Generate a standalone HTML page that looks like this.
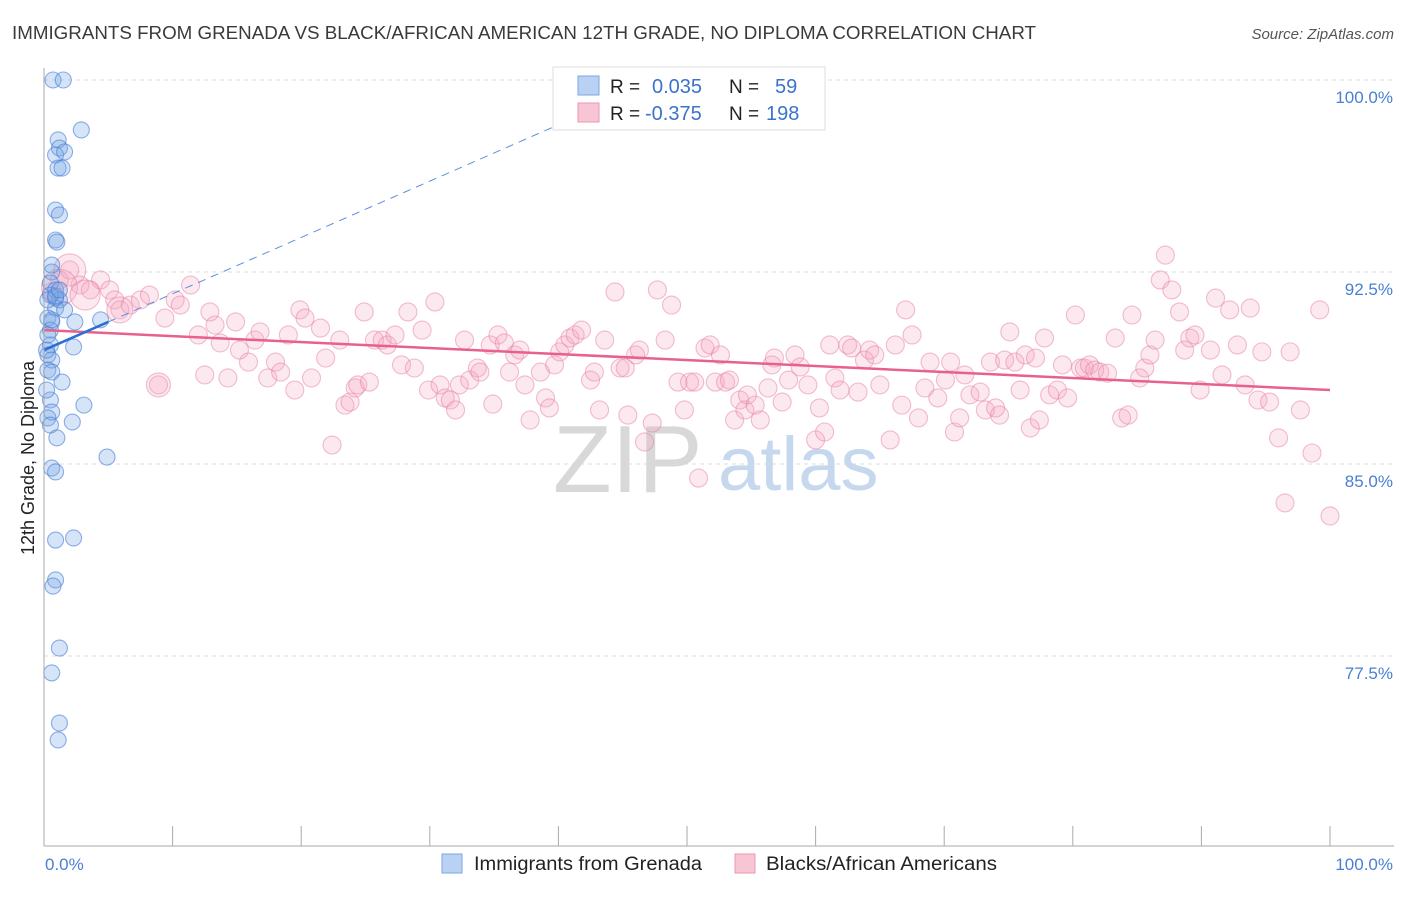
<!DOCTYPE html>
<html><head><meta charset="utf-8"><style>
body{margin:0;background:#fff;font-family:"Liberation Sans",sans-serif;}
svg text{font-family:"Liberation Sans",sans-serif;}
</style></head><body>
<svg id="chart" width="1406" height="892" viewBox="0 0 1406 892">
<text x="12" y="39" font-size="18" fill="#3a3a3a" textLength="1024" lengthAdjust="spacingAndGlyphs">IMMIGRANTS FROM GRENADA VS BLACK/AFRICAN AMERICAN 12TH GRADE, NO DIPLOMA CORRELATION CHART</text>
<text x="1394" y="39" font-size="15" fill="#555" font-style="italic" text-anchor="end">Source: ZipAtlas.com</text>
<g id="grid"></g>
<g>
<text x="553" y="492" font-size="96" fill="#d8d8d8" font-family="Liberation Serif,serif">ZIP</text>
<text x="718" y="490" font-size="76" fill="#c5d8ee">atlas</text>
</g>
<g id="pinkpts"></g>
<g id="bluepts"></g>
<g id="lines"></g>
<g id="axes"></g>
<text transform="translate(34,458) rotate(-90)" font-size="18" fill="#222" text-anchor="middle">12th Grade, No Diploma</text>
<g>
<rect x="553" y="67" width="272" height="63" fill="#fff" stroke="#ddd"/>
<rect x="578" y="76" width="21" height="19" fill="#b9d1f3" stroke="#7ea6e0"/>
<rect x="578" y="103" width="21" height="19" fill="#f8c5d5" stroke="#ec97b2"/>
<text x="610" y="93" font-size="19" fill="#222">R = </text><text x="652" y="93" font-size="20" fill="#3b73cc">0.035</text>
<text x="729" y="93" font-size="19" fill="#222">N = </text><text x="775" y="93" font-size="20" fill="#3b73cc">59</text>
<text x="610" y="120" font-size="19" fill="#222">R = </text><text x="645" y="120" font-size="20" fill="#3b73cc">-0.375</text>
<text x="729" y="120" font-size="19" fill="#222">N = </text><text x="766" y="120" font-size="20" fill="#3b73cc">198</text>
</g>
<g>
<rect x="442" y="854" width="20" height="19" fill="#b9d1f3" stroke="#7ea6e0"/>
<text x="474" y="870" font-size="19" fill="#222" textLength="228" lengthAdjust="spacingAndGlyphs">Immigrants from Grenada</text>
<rect x="735" y="854" width="20" height="19" fill="#f8c5d5" stroke="#ec97b2"/>
<text x="766" y="870" font-size="19" fill="#222" textLength="231" lengthAdjust="spacingAndGlyphs">Blacks/African Americans</text>
</g>
</svg>
<script>
const yTicks=[100,92.5,85,77.5];
const yTickLabels=["100.0%","92.5%","85.0%","77.5%"];
const xTickLabels=["0.0%","100.0%"];
const blueX=[0.7,1.5,2.9,1.1,1.2,0.9,1.6,1.1,1.4,0.9,1.2,0.9,1.0,0.6,0.6,0.5,0.9,0.9,1.2,0.9,1.6,0.3,0.6,2.4,4.4,2.3,0.5,0.3,0.6,0.3,0.6,1.4,3.1,2.2,0.5,0.6,0.3,0.5,1.0,4.9,0.6,0.9,0.9,2.3,0.9,0.7,1.2,0.6,1.2,1.1,0.5,0.3,0.9,0.5,0.2,0.3,1.2,0.6,0.2];
const blueY=[100,100,98.05,97.66,97.34,97.07,97.19,96.56,96.56,94.92,94.73,93.75,93.67,92.77,92.5,92.07,91.8,91.48,91.41,91.09,91.02,90.7,90.55,90.55,90.63,89.57,89.65,89.26,89.06,88.67,88.59,88.2,87.3,86.64,87.5,87.03,86.8,86.52,86.02,85.27,84.84,84.69,82.03,82.11,80.47,80.23,77.81,76.84,74.88,74.22,91.6,91.41,91.56,90.23,89.45,90.04,91.8,90.63,87.89];
const pinkX=[0.6,1.2,2.0,2.8,3.6,4.4,5.1,5.5,5.9,6.7,7.5,8.2,8.9,9.4,10.2,10.6,11.4,12.0,12.5,12.9,13.3,13.7,14.3,14.9,15.2,15.9,16.4,16.8,17.4,18.0,18.4,19.0,19.5,19.9,20.3,20.8,21.5,21.9,22.4,23.0,23.4,23.8,24.2,24.4,24.9,25.3,25.7,26.3,26.7,27.3,27.8,28.3,28.8,29.4,29.9,30.4,30.8,31.2,31.6,32.0,32.3,32.7,33.1,33.7,33.9,34.7,34.9,35.3,35.8,36.2,36.6,37.0,37.4,37.8,38.6,39.0,39.3,39.7,40.1,40.5,40.9,41.3,41.8,42.5,42.8,43.2,43.6,44.4,44.8,45.2,45.4,46.0,46.3,46.7,47.3,47.7,48.3,48.8,49.3,49.8,50.2,50.6,50.9,51.4,51.8,52.2,52.6,53.0,53.3,53.7,54.1,54.5,54.7,55.3,55.7,56.3,56.6,56.8,57.4,57.9,58.4,58.8,59.4,60.0,60.3,60.7,61.1,61.5,61.9,62.5,62.8,63.3,63.8,64.2,64.6,65.0,65.8,66.2,66.7,67.0,67.5,68.0,68.5,68.9,69.5,70.1,70.5,70.8,71.2,71.6,72.0,72.8,73.2,73.6,74.0,74.3,74.7,75.1,75.5,75.9,76.3,76.7,77.1,77.4,77.8,78.2,78.8,79.2,79.6,80.2,80.6,80.9,81.3,81.7,82.1,82.7,83.3,83.8,84.3,84.6,85.2,85.6,86.0,86.4,86.8,87.2,87.7,88.3,88.7,89.1,89.5,89.9,90.7,91.1,91.6,92.2,92.8,93.4,93.8,94.4,94.7,95.3,96.0,96.5,96.9,97.7,98.6,99.2,100];
const pinkY=[91.72,92.19,92.58,91.99,91.8,92.19,91.8,91.41,91.02,91.21,91.41,91.6,88.09,90.7,91.41,91.21,91.99,90.04,88.48,90.94,90.43,89.73,88.36,90.55,89.45,88.98,89.84,90.16,88.36,88.98,88.59,90.04,87.89,91.02,90.7,88.36,90.31,89.14,85.74,89.84,87.3,87.42,87.97,88.09,90.94,88.2,89.84,89.84,89.65,90.04,88.87,90.94,88.75,90.23,87.89,91.33,88.09,87.58,87.5,87.11,88.09,89.84,88.28,88.75,88.59,89.65,87.34,90.04,89.73,88.59,89.26,89.45,88.09,86.72,88.59,87.58,87.19,88.87,89.38,89.65,89.92,90.04,90.23,88.28,88.59,87.11,89.84,91.72,88.75,88.75,86.91,89.26,89.45,85.86,86.6,91.8,89.84,91.21,88.2,87.11,88.2,88.2,84.45,89.53,89.65,88.2,89.26,88.2,88.28,86.72,87.5,87.11,87.7,87.3,86.72,87.97,88.87,89.14,87.42,88.28,89.26,88.79,88.09,85.94,87.19,86.25,89.65,88.36,87.89,89.65,89.53,87.81,89.06,89.45,89.26,88.09,85.94,89.65,87.3,91.02,90.04,86.8,87.97,88.98,87.58,88.28,88.98,86.25,86.8,88.48,87.7,87.81,87.11,88.98,87.19,86.91,89.06,90.16,88.98,87.89,89.26,86.41,89.14,86.72,89.92,87.7,87.89,88.87,87.58,90.82,88.75,88.75,88.87,88.67,88.59,88.55,89.92,86.8,86.91,90.82,88.36,88.75,89.26,89.84,92.19,93.16,91.8,90.94,89.45,89.92,90.04,87.89,89.45,91.48,88.48,91.02,89.65,88.09,91.09,87.5,89.38,87.42,86.02,83.48,89.38,87.11,85.43,91.02,82.97];
const pinkBig=[[2.0,92.58,16],[1.2,91.9,18],[3.2,91.6,15],[5.9,91.02,13],[8.9,88.09,12]];
const blueTrend=[89.45,90.55];
const pinkTrend=[90.23,87.89];

const NS="http://www.w3.org/2000/svg";
const X0=44,X1=1330,Y100=80,PX_PER=25.6;
function sx(v){return X0+(X1-X0)*v/100;}
function sy(v){return Y100+(100-v)*PX_PER;}
function mk(tag,attrs,parent){const e=document.createElementNS(NS,tag);for(const k in attrs)e.setAttribute(k,attrs[k]);parent.appendChild(e);return e;}
const grid=document.getElementById('grid'),axes=document.getElementById('axes');
yTicks.forEach((t,i)=>{
  const l=mk('line',{x1:X0,x2:1394,y1:sy(t),y2:sy(t),stroke:'#ddd','stroke-dasharray':'4,4'},grid);
  
  
  const tx=mk('text',{x:1393,y:sy(t)+23,'font-size':17,fill:'#4a7fd4','text-anchor':'end'},axes);
  tx.textContent=yTickLabels[i];
  
  
});
const ax=mk('line',{x1:X0,x2:X0,y1:68,y2:846,stroke:'#aaa'},axes);


const bx=mk('line',{x1:X0,x2:1394,y1:846,y2:846,stroke:'#aaa'},axes);


for(let i=1;i<=10;i++){
  const t=mk('line',{x1:sx(i*10),x2:sx(i*10),y1:826,y2:846,stroke:'#aaa'},axes);
  
  
}
const xl0=mk('text',{x:45,y:870,'font-size':17,fill:'#4a7fd4'},axes);xl0.textContent=xTickLabels[0];


const xl1=mk('text',{x:1393,y:870,'font-size':17,fill:'#4a7fd4','text-anchor':'end'},axes);xl1.textContent=xTickLabels[1];



const pg=document.getElementById('pinkpts');
pinkX.forEach((x,i)=>{
  const c=mk('circle',{cx:sx(x),cy:sy(pinkY[i]),r:9,fill:'rgba(245,165,192,0.25)',stroke:'rgba(232,125,160,0.5)','stroke-width':1.1},pg);
  
  
});
pinkBig.forEach(p=>{
  const c=mk('circle',{cx:sx(p[0]),cy:sy(p[1]),r:p[2],fill:'rgba(245,165,192,0.25)',stroke:'rgba(232,125,160,0.5)','stroke-width':1.1},pg);
  
  
});
const bg=document.getElementById('bluepts');
blueX.forEach((x,i)=>{
  const c=mk('circle',{cx:sx(x),cy:sy(blueY[i]),r:8,fill:'rgba(120,165,230,0.3)',stroke:'rgba(70,125,215,0.6)','stroke-width':1.1},bg);
  
  
});
const lg=document.getElementById('lines');
const slope=(blueTrend[1]-blueTrend[0])/5;
const bd=mk('line',{x1:sx(5),y1:sy(blueTrend[1]),x2:sx(43),y2:sy(blueTrend[0]+slope*43),stroke:'#5b8fdc','stroke-width':1,'stroke-dasharray':'8,6'},lg);


const pl=mk('line',{x1:sx(0),y1:sy(pinkTrend[0]),x2:sx(100),y2:sy(pinkTrend[1]),stroke:'#e8608c','stroke-width':2.5},lg);


const bl=mk('line',{x1:sx(0),y1:sy(blueTrend[0]),x2:sx(5),y2:sy(blueTrend[1]),stroke:'#2b6fd6','stroke-width':2.5},lg);


</script>
</body></html>
